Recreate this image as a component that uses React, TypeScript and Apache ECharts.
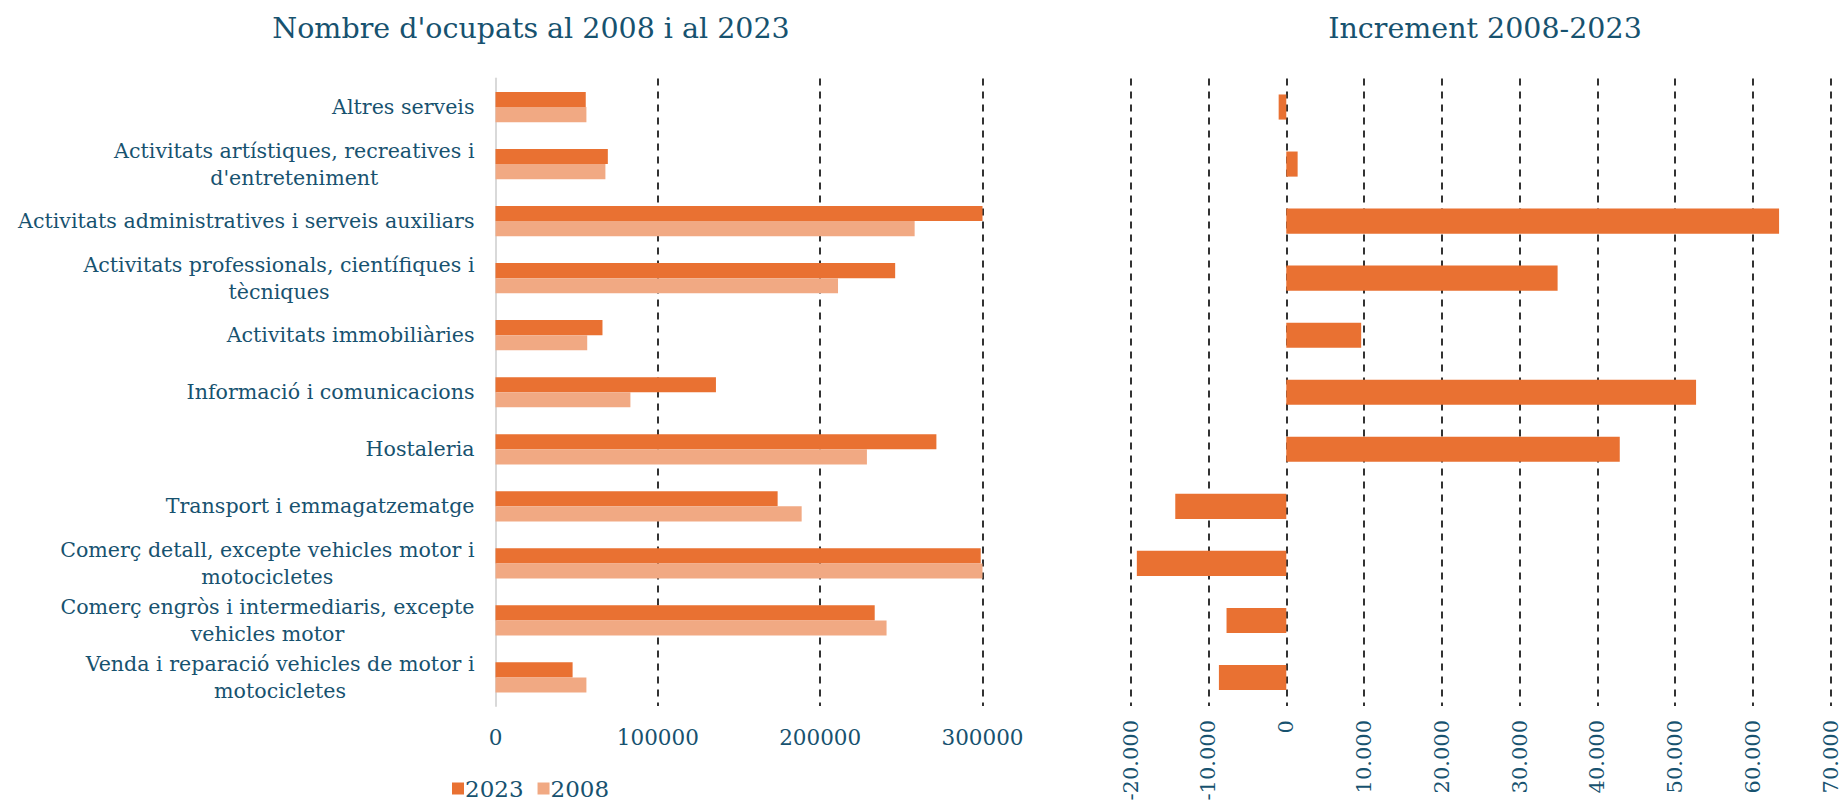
import React, { useEffect, useRef } from "react";
import * as echarts from "echarts";

const categories = [
  "Altres serveis",
  "Activitats artístiques, recreatives i\nd'entreteniment",
  "Activitats administratives i serveis auxiliars",
  "Activitats professionals, científiques i\ntècniques",
  "Activitats immobiliàries",
  "Informació i comunicacions",
  "Hostaleria",
  "Transport i emmagatzematge",
  "Comerç detall, excepte vehicles motor i\nmotocicletes",
  "Comerç engròs i intermediaris, excepte\nvehicles motor",
  "Venda i reparació vehicles de motor i\nmotocicletes",
];

const values2023 = [55600, 69200, 321550, 246200, 65900, 135800, 271600, 173800, 298900, 233600, 47500];
const values2008 = [56000, 67700, 258200, 211000, 56500, 83100, 228800, 188600, 318100, 240900, 56000];
const increment = [-980, 1460, 63350, 34880, 9630, 52680, 42870, -14270, -19210, -7680, -8660];

const seriesNames = ["2023", "2008"];
const titles = ["Nombre d'ocupats al 2008 i al 2023", "Increment 2008-2023"];

const leftAxis = { min: 0, max: 300000, interval: 100000 };
const rightAxis = { min: -20000, max: 70000, interval: 10000 };

const TEXT = "#17526f";
const DARK = "#E97132";
const LIGHT = "#F1A983";
const FONT = "DejaVu Serif";

function dotThousands(v: number): string {
  const s = Math.abs(v).toString().replace(/\B(?=(\d{3})+(?!\d))/g, ".");
  return (v < 0 ? "-" : "") + s;
}

export default function App() {
  const ref = useRef<HTMLDivElement>(null);
  useEffect(() => {
    if (!ref.current) return;
    const chart = echarts.init(ref.current, undefined, { renderer: "svg" });
    const gridTop = 78.5;
    const gridBottom = 99;
    const dashed = { type: [7, 6] as any, width: 1.6, color: "#000" };
    chart.setOption({
      animation: false,
      backgroundColor: "#fff",
      title: [
        {
          text: titles[0],
          left: 526,
          top: 9,
          textAlign: "center",
          textStyle: { fontFamily: FONT, fontSize: 28.5, fontWeight: "normal", color: TEXT },
        },
        {
          text: titles[1],
          left: 1480,
          top: 9,
          textAlign: "center",
          textStyle: { fontFamily: FONT, fontSize: 28.5, fontWeight: "normal", color: TEXT },
        },
      ],
      legend: {
        data: seriesNames,
        left: 447,
        top: 772,
        icon: "rect",
        itemWidth: 12,
        itemHeight: 12,
        itemGap: 14,
        textStyle: { fontFamily: FONT, fontSize: 23, color: TEXT, padding: [0, 0, 0, -4] },
      },
      grid: [
        { left: 495.5, right: 862.5, top: gridTop, bottom: gridBottom },
        { left: 1130.7, right: 14.2, top: gridTop, bottom: gridBottom },
      ],
      xAxis: [
        {
          gridIndex: 0,
          type: "value",
          min: leftAxis.min,
          max: leftAxis.max,
          interval: leftAxis.interval,
          axisLine: { show: false },
          axisTick: { show: false },
          axisLabel: {
            fontFamily: FONT,
            fontSize: 21.5,
            color: TEXT,
            margin: 20,
            formatter: (v: number) => String(v),
          },
          splitLine: { show: true, showMinLine: false, lineStyle: dashed },
        },
        {
          gridIndex: 1,
          type: "value",
          min: rightAxis.min,
          max: rightAxis.max,
          interval: rightAxis.interval,
          axisLine: { show: false },
          axisTick: { show: false },
          axisLabel: {
            fontFamily: FONT,
            fontSize: 21,
            color: TEXT,
            rotate: 90,
            margin: 14,
            formatter: (v: number) => dotThousands(v),
          },
          splitLine: { show: true, lineStyle: dashed },
        },
      ],
      yAxis: [
        {
          gridIndex: 0,
          type: "category",
          inverse: true,
          data: categories,
          axisLine: { show: true, lineStyle: { color: "#d9d9d9", width: 2 } },
          axisTick: { show: false },
          axisLabel: {
            margin: 21,
            lineHeight: 27,
            formatter: (v: string) => v.split("\n").map((l) => `{c|${l}}`).join("\n"),
            rich: {
              c: { align: "center", fontFamily: FONT, fontSize: 20.6, color: TEXT, lineHeight: 27 },
            },
          },
        },
        {
          gridIndex: 1,
          type: "category",
          inverse: true,
          data: categories,
          show: false,
        },
      ],
      series: [
        {
          name: seriesNames[0],
          type: "bar",
          xAxisIndex: 0,
          yAxisIndex: 0,
          data: values2023,
          itemStyle: { color: DARK },
          barGap: "0%",
          barCategoryGap: "47%",
          clip: true,
        },
        {
          name: seriesNames[1],
          type: "bar",
          xAxisIndex: 0,
          yAxisIndex: 0,
          data: values2008,
          itemStyle: { color: LIGHT },
          barGap: "0%",
          barCategoryGap: "47%",
          clip: true,
        },
        {
          name: "Increment",
          type: "bar",
          xAxisIndex: 1,
          yAxisIndex: 1,
          data: increment,
          itemStyle: { color: DARK },
          barCategoryGap: "56%",
        },
      ],
    });
    return () => chart.dispose();
  }, []);
  return (
    <div
      ref={ref}
      style={{ position: "fixed", left: 0, top: 0, width: 1845, height: 805, background: "#fff" }}
    />
  );
}
